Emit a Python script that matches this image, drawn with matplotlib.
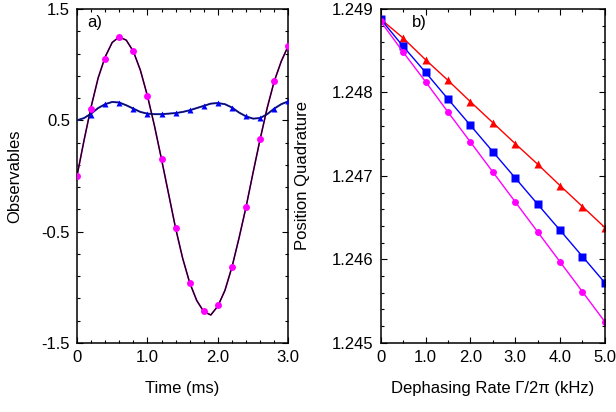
import numpy as np
import matplotlib
matplotlib.use('Agg')
import matplotlib.pyplot as plt
from matplotlib.ticker import MultipleLocator, FixedLocator

plt.rcParams['font.family'] = ['Liberation Sans', 'DejaVu Sans']
plt.rcParams['font.size'] = 12
plt.rcParams['axes.unicode_minus'] = False

# Datos panel a) - curvas (teoria) y puntos (simulacion)
t_curva = np.arange(0, 3.01, 0.1)
obs1_curva = [0.0, 0.32, 0.62, 0.88, 1.07, 1.20, 1.25, 1.22, 1.12, 0.95, 0.72,
              0.45, 0.15, -0.16, -0.47, -0.74, -0.96, -1.12, -1.22, -1.25, -1.17,
              -1.03, -0.82, -0.56, -0.28, 0.03, 0.33, 0.61, 0.85, 1.03, 1.17]
obs2_curva = [0.50, 0.52, 0.56, 0.61, 0.645, 0.665, 0.66, 0.635, 0.605, 0.575, 0.56,
              0.555, 0.555, 0.56, 0.565, 0.575, 0.59, 0.61, 0.63, 0.65, 0.655,
              0.645, 0.615, 0.57, 0.535, 0.515, 0.52, 0.555, 0.605, 0.645, 0.67]

t_puntos1 = np.arange(0, 3.01, 0.2)
obs1_puntos = [0.0, 0.605, 1.05, 1.25, 1.12, 0.72, 0.148, -0.47, -0.96, -1.216,
               -1.156, -0.82, -0.276, 0.33, 0.852, 1.17]
t_puntos2 = np.arange(0.2, 3.01, 0.2)
obs2_puntos = [0.55, 0.643, 0.66, 0.605, 0.56, 0.56, 0.569, 0.59, 0.625, 0.658,
               0.614, 0.538, 0.524, 0.605, 0.67]

# Datos panel b)
gamma = np.arange(0, 5.01, 0.5)
pos_rojo = [1.24888, 1.248653, 1.248393, 1.248146, 1.247890, 1.247639,
            1.247387, 1.247140, 1.246884, 1.246633, 1.246381]
pos_azul = [1.24888, 1.248553, 1.248242, 1.247922, 1.247607, 1.247291,
            1.246976, 1.246661, 1.246349, 1.246034, 1.245719]
pos_magenta = [1.248852, 1.248485, 1.248130, 1.247766, 1.247407, 1.247048,
               1.246689, 1.246329, 1.245970, 1.245611, 1.245251]

fig = plt.figure(figsize=(6.16, 4.12), dpi=100)
ax1 = fig.add_axes([0.125, 0.168, 0.343, 0.810])
ax2 = fig.add_axes([0.618, 0.168, 0.364, 0.810])

# Panel a)
ax1.plot(t_curva, obs1_curva, color='#ff00ff', lw=1.2, zorder=2)
ax1.plot(t_curva, obs1_curva, color='black', lw=0.9, zorder=3)
ax1.plot(t_puntos1, obs1_puntos, 'o', color='#ff00ff', ms=5, mec='none', zorder=4)
ax1.plot(t_curva, obs2_curva, color='#2030ff', lw=1.4, zorder=2)
ax1.plot(t_curva, obs2_curva, color='#101040', lw=0.9, zorder=3)
ax1.plot(t_puntos2, obs2_puntos, '^', color='#0000ff', ms=5, mec='none', zorder=4)

ax1.set_xlim(0, 3.0)
ax1.set_ylim(-1.5, 1.5)
ax1.set_xticks([0, 1, 2, 3])
ax1.set_xticklabels(['0', '1.0', '2.0', '3.0'])
ax1.set_yticks([-1.5, -0.5, 0.5, 1.5])
ax1.set_yticklabels(['-1.5', '-0.5', '0.5', '1.5'])
ax1.xaxis.set_minor_locator(MultipleLocator(0.2))
ax1.yaxis.set_minor_locator(FixedLocator(np.arange(-1.5, 1.51, 0.2)))
ax1.set_xlabel('Time (ms)')
ax1.set_ylabel('Observables')
ax1.xaxis.set_label_coords(0.5, -0.115)
ax1.yaxis.set_label_coords(-0.26, 0.5)
ax1.text(0.05, 0.96, 'a)', transform=ax1.transAxes, ha='left', va='center')

# Panel b)
ax2.plot(gamma, pos_rojo, '-^', color='#ff0000', lw=1.0, ms=5.5, mec='none')
ax2.plot(gamma, pos_azul, '-s', color='#0000ff', lw=1.0, ms=5.5, mec='none')
ax2.plot(gamma, pos_magenta, '-o', color='#ff00ff', lw=1.0, ms=5, mec='none')

ax2.set_xlim(0, 5.0)
ax2.set_ylim(1.245, 1.249)
ax2.set_xticks([0, 1, 2, 3, 4, 5])
ax2.set_xticklabels(['0', '1.0', '2.0', '3.0', '4.0', '5.0'])
ax2.set_yticks([1.245, 1.246, 1.247, 1.248, 1.249])
ax2.set_yticklabels(['1.245', '1.246', '1.247', '1.248', '1.249'])
ax2.xaxis.set_minor_locator(MultipleLocator(0.5))
ax2.yaxis.set_minor_locator(FixedLocator(np.arange(1.245, 1.24901, 0.0002)))
ax2.set_xlabel('Dephasing Rate Γ/2π (kHz)')
ax2.set_ylabel('Position Quadrature')
ax2.xaxis.set_label_coords(0.5, -0.115)
ax2.yaxis.set_label_coords(-0.315, 0.5)
ax2.text(0.14, 0.96, 'b)', transform=ax2.transAxes, ha='left', va='center')

for ax in [ax1, ax2]:
    for s in ax.spines.values():
        s.set_linewidth(1.1)
    ax.tick_params(which='both', direction='in', top=True, right=True, width=0.8)
    ax.tick_params(which='major', length=4, pad=5)
    ax.tick_params(which='minor', length=2.5)

fig.savefig('out.png', dpi=100)
